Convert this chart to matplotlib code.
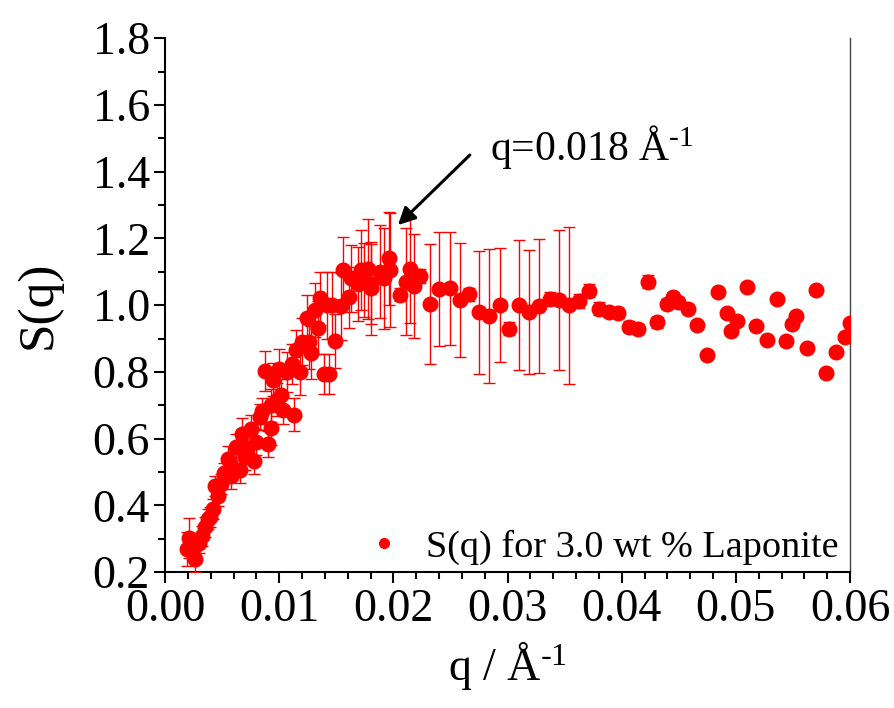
import matplotlib
matplotlib.use("Agg")
import matplotlib.pyplot as plt
import numpy as np
from matplotlib.ticker import MultipleLocator
from matplotlib.lines import Line2D

plt.rcParams['font.family'] = ['Liberation Serif', 'DejaVu Serif']
plt.rcParams['mathtext.fontset'] = 'custom'
plt.rcParams['mathtext.rm'] = 'Liberation Serif'
plt.rcParams['mathtext.it'] = 'Liberation Serif:italic'

# S(q) data
q = [0.0019, 0.0021, 0.0025, 0.0026, 0.0030, 0.0032, 0.0035, 0.0038, 0.0039, 0.0042,
     0.0044, 0.0046, 0.0049, 0.0052, 0.0055, 0.0058, 0.0059, 0.0062, 0.0066, 0.0067,
     0.0070, 0.0072, 0.0075, 0.0078, 0.0080, 0.0083, 0.0085, 0.0088, 0.0090, 0.0093,
     0.0093, 0.0095, 0.0098, 0.0100, 0.0102, 0.0103, 0.0107, 0.0111, 0.0113, 0.0115,
     0.0118, 0.0120, 0.0124, 0.0126, 0.0128, 0.0131, 0.0134, 0.0136, 0.0139, 0.0142,
     0.0144, 0.0146, 0.0149, 0.0154, 0.0156, 0.0161, 0.0163, 0.0169, 0.0172, 0.0174,
     0.0178, 0.0180, 0.0180, 0.0188, 0.0192, 0.0196, 0.0197, 0.0206, 0.0211, 0.0215,
     0.0218, 0.0223, 0.0232, 0.0240, 0.0250, 0.0258, 0.0266, 0.0275, 0.0284, 0.0293,
     0.0301, 0.0310, 0.0319, 0.0328, 0.0337, 0.0345, 0.0354, 0.0363, 0.0371, 0.0380,
     0.0389, 0.0397, 0.0406, 0.0414, 0.0423, 0.0431, 0.0440, 0.0445, 0.0449, 0.0458,
     0.0466, 0.0475, 0.0484, 0.0492, 0.0496, 0.0501, 0.0510, 0.0518, 0.0527, 0.0536,
     0.0544, 0.0549, 0.0553, 0.0562, 0.0570, 0.0579, 0.0588, 0.0596, 0.0600]
s = [0.269, 0.303, 0.276, 0.239, 0.286, 0.308, 0.334, 0.358, 0.366, 0.388,
     0.458, 0.428, 0.463, 0.496, 0.538, 0.489, 0.516, 0.575, 0.506, 0.613,
     0.545, 0.571, 0.630, 0.533, 0.590, 0.665, 0.683, 0.803, 0.584, 0.631,
     0.700, 0.777, 0.717, 0.808, 0.730, 0.685, 0.800, 0.823, 0.672, 0.865,
     0.800, 0.890, 0.960, 0.890, 0.858, 0.985, 0.933, 1.020, 0.795, 1.000,
     0.795, 1.000, 0.893, 0.997, 1.105, 1.023, 1.080, 1.063, 1.105, 1.075,
     1.108, 1.063, 1.050, 1.100, 1.080, 1.140, 1.105, 1.031, 1.070, 1.107,
     1.057, 1.087, 1.003, 1.048, 1.050, 1.015, 1.032, 0.978, 0.967, 1.001,
     0.930, 1.000, 0.980, 0.997, 1.019, 1.015, 1.000, 1.012, 1.043, 0.989,
     0.978, 0.975, 0.936, 0.929, 1.070, 0.948, 1.003, 1.025, 1.010, 0.987,
     0.940, 0.852, 1.038, 0.975, 0.924, 0.952, 1.055, 0.937, 0.896, 1.017,
     0.892, 0.942, 0.967, 0.872, 1.045, 0.796, 0.859, 0.904, 0.945]
err = [0.05, 0.06, 0.03, 0.04, 0.03, 0.03, 0.03, 0.03, 0.03, 0.03,
       0.03, 0.03, 0.03, 0.03, 0.04, 0.04, 0.04, 0.04, 0.04, 0.05,
       0.04, 0.04, 0.04, 0.04, 0.04, 0.04, 0.04, 0.06, 0.04, 0.05,
       0.05, 0.05, 0.05, 0.06, 0.05, 0.04, 0.06, 0.06, 0.05, 0.06,
       0.07, 0.07, 0.07, 0.08, 0.08, 0.08, 0.08, 0.08, 0.06, 0.10,
       0.06, 0.10, 0.08, 0.10, 0.10, 0.09, 0.10, 0.11, 0.12, 0.11,
       0.15, 0.12, 0.14, 0.14, 0.15, 0.14, 0.17, 0.02, 0.16, 0.16,
       0.155, 0.02, 0.18, 0.17, 0.17, 0.17, 0.02, 0.185, 0.20, 0.17,
       0.02, 0.195, 0.185, 0.20, 0.02, 0.21, 0.235, 0.02, 0.02, 0.02,
       0.015, 0.015, 0.015, 0.015, 0.02, 0.015, 0.015, 0.015, 0.015, 0.01,
       0.01, 0.01, 0.01, 0.01, 0.01, 0.01, 0.01, 0.01, 0.01, 0.01,
       0.01, 0.01, 0.01, 0.01, 0.01, 0.01, 0.01, 0.01, 0.01]

fig = plt.figure(figsize=(8.94, 7.08), dpi=100)
ax = fig.add_axes([0.1846, 0.192, 0.7662, 0.754])

ax.errorbar(q, s, yerr=err, fmt='o', color='red', ms=10.5, mec='red',
            ecolor='red', elinewidth=1, capsize=4, capthick=1,
            zorder=3)

ax.set_xlim(0, 0.06)
ax.set_ylim(0.2, 1.8)
ax.xaxis.set_major_locator(MultipleLocator(0.01))
ax.xaxis.set_minor_locator(MultipleLocator(0.002))
ax.yaxis.set_major_locator(MultipleLocator(0.2))
ax.yaxis.set_minor_locator(MultipleLocator(0.1))
ax.xaxis.set_major_formatter(plt.FuncFormatter(lambda v, p: f"{v:.2f}"))
ax.yaxis.set_major_formatter(plt.FuncFormatter(lambda v, p: f"{v:.1f}"))

for sp in ax.spines.values():
    sp.set_linewidth(1.5)
ax.spines['top'].set_visible(False)
ax.spines['right'].set_linewidth(1.0)
ax.spines['right'].set_color('#444444')
ax.tick_params(which='both', direction='out', width=1.5, labelsize=33)
ax.tick_params(which='major', length=8)
ax.tick_params(which='minor', length=5)
ax.tick_params(axis='y', right=False, pad=3)
ax.tick_params(axis='x', pad=4)

ax.set_xlabel('q / Å$^{\u2010\\mathrm{1}}$', fontsize=33, labelpad=6)
ax.set_ylabel('S(q)', fontsize=37, labelpad=22)

# arrow and label for the peak
ax.annotate('', xy=(0.0204, 1.24), xytext=(0.0267, 1.45),
            arrowprops=dict(arrowstyle='-|>', color='black', lw=2.2,
                            mutation_scale=26, shrinkA=0, shrinkB=0))
ax.text(0.0285, 1.475, 'q=0.018 Å$^{\u2010\\mathrm{1}}$', fontsize=30,
        ha='left', va='center')

handle = Line2D([], [], ls='none', marker='o', color='red', ms=7)
ax.legend([handle], ['S(q) for 3.0 wt % Laponite'], loc='lower right',
          bbox_to_anchor=(1.0, -0.008), frameon=False, fontsize=27.5,
          handletextpad=0.5, borderaxespad=0.0, handlelength=1.2,
          borderpad=0.3)

fig.savefig('out.png', dpi=100)
